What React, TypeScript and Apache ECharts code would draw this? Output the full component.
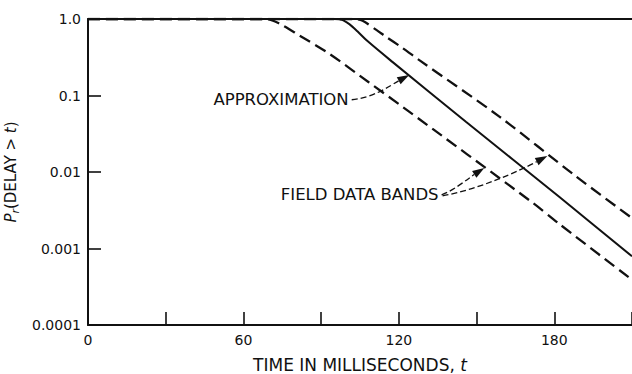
import { useEffect, useRef } from 'react';
import * as echarts from 'echarts';

// Delay-probability curves, P(delay > t) against t in milliseconds.
const approxTime = [0, 95, 98, 101, 104, 108, 117.5, 146, 182, 210];
const approxProb = [1, 1, 0.98, 0.85, 0.69, 0.51, 0.275, 0.045, 0.0047, 0.00079];

const lowerBandTime = [0, 69, 73.9, 81.6, 93.2, 108.5, 121.2, 171.5, 181.9, 210];
const lowerBandProb = [1, 1, 0.87, 0.61, 0.35, 0.148, 0.072, 0.004, 0.0021, 0.00039];

const upperBandTime = [0, 103, 106, 111.3, 115.2, 120.9, 127.9, 158.8, 188.5, 210];
const upperBandProb = [1, 1, 0.95, 0.72, 0.58, 0.43, 0.29, 0.053, 0.0087, 0.0025];

// Tick labels, indexed by decade exponent + 4.
const yTickLabels = ['0.0001', '0.001', '0.01', '0.1', '1.0'];
const xLabelStep = 60;

// Annotation anchors in data coordinates [t, P].
const approxLeaderFrom = [101.8, 0.088];
const approxArrowTip = [124, 0.185];
const fieldLeaderFrom = [136.5, 0.00504];
const fieldArrowTipLow = [153, 0.0113];
const fieldArrowTipHigh = [177.3, 0.0162];

const FONT = '"DejaVu Sans", "Liberation Sans", Arial, sans-serif';
const INK = '#111';

const pairs = (xs: number[], ys: number[]) => xs.map((x, i) => [x, ys[i]]);

function arrow(tip: number[], from: number[], len = 12, half = 4) {
  const dx = tip[0] - from[0];
  const dy = tip[1] - from[1];
  const d = Math.hypot(dx, dy) || 1;
  const ux = dx / d;
  const uy = dy / d;
  const bx = tip[0] - ux * len;
  const by = tip[1] - uy * len;
  return {
    base: [bx, by],
    shape: {
      points: [
        [tip[0], tip[1]],
        [bx - uy * half, by + ux * half],
        [bx + uy * half, by - ux * half],
      ],
    },
  };
}

function leader(start: number[], tip: number[], c1: number[], c2: number[]) {
  const cp1 = [start[0] + c1[0], start[1] + c1[1]];
  const cp2 = [tip[0] + c2[0], tip[1] + c2[1]];
  const head = arrow(tip, cp2);
  return [
    {
      type: 'bezierCurve',
      silent: true,
      shape: {
        x1: start[0], y1: start[1],
        cpx1: cp1[0], cpy1: cp1[1],
        cpx2: cp2[0], cpy2: cp2[1],
        x2: head.base[0], y2: head.base[1],
      },
      style: { stroke: INK, lineWidth: 1.3, lineDash: [6, 3], fill: null },
    },
    { type: 'polygon', silent: true, shape: head.shape, style: { fill: INK } },
  ];
}

export default function App() {
  const ref = useRef<HTMLDivElement>(null);

  useEffect(() => {
    if (!ref.current) return;
    const chart = echarts.init(ref.current, undefined, { renderer: 'svg' });

    const lineSeries = (name: string, data: number[][], dashed: boolean) => ({
      name,
      type: 'line',
      data,
      showSymbol: false,
      smooth: 0.3,
      lineStyle: {
        color: INK,
        width: dashed ? 2.3 : 2,
        type: dashed ? [12, 6] : 'solid',
      },
      z: 3,
    });

    chart.setOption({
      animation: false,
      backgroundColor: '#fff',
      grid: { left: 88, right: 0, top: 19, bottom: 49, outerBoundsMode: 'none', containLabel: false },
      xAxis: [
        {
          type: 'value',
          min: 0,
          max: 210,
          interval: 30,
          name: '{n|TIME IN MILLISECONDS, }{i|t}',
          nameLocation: 'middle',
          nameGap: 31,
          nameTextStyle: {
            rich: {
              n: { fontFamily: FONT, fontSize: 17, color: INK },
              i: { fontFamily: FONT, fontSize: 17, color: INK, fontStyle: 'italic' },
            },
          },
          axisLine: { show: true, lineStyle: { color: INK, width: 2 } },
          axisTick: { show: true, inside: true, length: 13, lineStyle: { color: INK, width: 1.6 } },
          axisLabel: {
            margin: 8,
            fontFamily: FONT,
            fontSize: 14,
            color: INK,
            formatter: (v: number) => (v % xLabelStep === 0 && v < 210 ? String(v) : ''),
          },
          splitLine: { show: false },
        },
        {
          type: 'value',
          position: 'top',
          min: 0,
          max: 210,
          axisLine: { show: true, lineStyle: { color: INK, width: 2 } },
          axisTick: { show: false },
          axisLabel: { show: false },
          splitLine: { show: false },
        },
      ],
      yAxis: {
        type: 'log',
        logBase: 10,
        min: 0.0001,
        max: 1,
        name: '{i|P}{s|r}{n|(DELAY > }{i|t}{n|)}',
        nameLocation: 'middle',
        nameGap: 63,
        nameRotate: 90,
        nameTextStyle: {
          rich: {
            n: { fontFamily: FONT, fontSize: 15, color: INK, lineHeight: 20 },
            i: { fontFamily: FONT, fontSize: 15, color: INK, fontStyle: 'italic', lineHeight: 20 },
            s: { fontFamily: FONT, fontSize: 11, color: INK, fontStyle: 'italic', verticalAlign: 'bottom', lineHeight: 12 },
          },
        },
        axisLine: { show: true, lineStyle: { color: INK, width: 2 } },
        axisTick: { show: true, inside: true, length: 13, lineStyle: { color: INK, width: 1.6 } },
        axisLabel: {
          margin: 7,
          fontFamily: FONT,
          fontSize: 14,
          color: INK,
          formatter: (v: number) => yTickLabels[Math.round(Math.log10(v)) + 4] ?? '',
        },
        splitLine: { show: false },
        minorTick: { show: false },
      },
      series: [
        lineSeries('Lower band', pairs(lowerBandTime, lowerBandProb), true),
        lineSeries('Approximation', pairs(approxTime, approxProb), false),
        lineSeries('Upper band', pairs(upperBandTime, upperBandProb), true),
      ],
    });

    const px = (p: number[]) => chart.convertToPixel({ gridIndex: 0 }, p) as number[];

    const aFrom = px(approxLeaderFrom);
    const aTip = px(approxArrowTip);
    const fFrom = px(fieldLeaderFrom);
    const fTipLow = px(fieldArrowTipLow);
    const fTipHigh = px(fieldArrowTipHigh);

    const label = (text: string, at: number[]) => ({
      type: 'text',
      silent: true,
      style: {
        text,
        x: at[0] - 3,
        y: at[1],
        align: 'right',
        verticalAlign: 'middle',
        fontFamily: FONT,
        fontSize: 16.5,
        fill: INK,
      },
    });

    chart.setOption({
      graphic: [
        label('APPROXIMATION', aFrom),
        ...leader(aFrom, aTip, [22, -2], [-20, 11]),
        label('FIELD DATA BANDS', fFrom),
        ...leader(fFrom, fTipLow, [12, -4], [-14, 9]),
        ...leader([fFrom[0] + 1, fFrom[1] + 1], fTipHigh, [35, -6], [-28, 15]),
      ],
    });

    return () => chart.dispose();
  }, []);

  return (
    <div
      ref={ref}
      style={{ position: 'absolute', left: 0, top: 0, width: 632, height: 374, background: '#fff' }}
    />
  );
}
